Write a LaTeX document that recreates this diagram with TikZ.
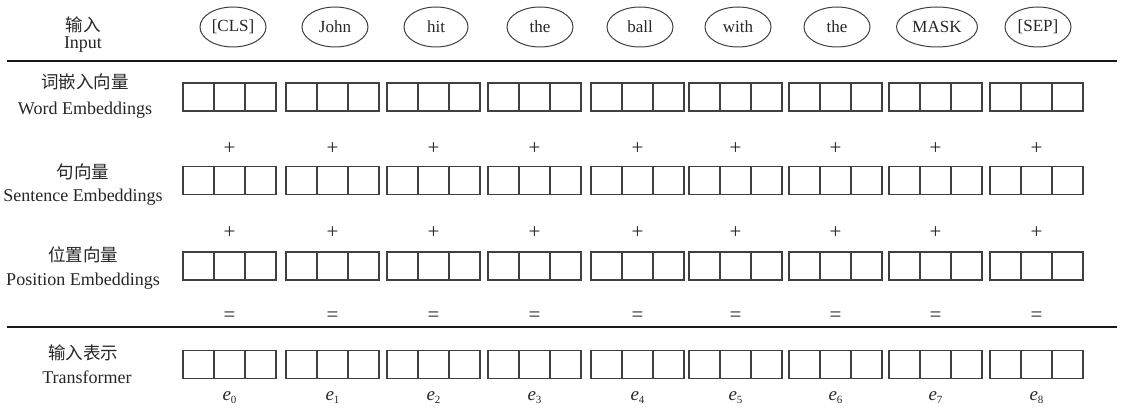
\documentclass[tikz,border=0pt]{standalone}
\usepackage{fontspec}
\setmainfont{Liberation Serif}
\newfontfamily\cjk{Noto Sans CJK SC}
\usetikzlibrary{calc,shapes.geometric}
\newcommand{\evec}[1]{\textit{e}\raisebox{-3pt}{\fontsize{11}{12}\selectfont #1}}
\begin{document}
\begin{tikzpicture}[x=1pt,y=-1pt,
  txt/.style={inner sep=0pt,text=black!85,font=\fontsize{19}{21}\selectfont},
  lbl/.style={inner sep=0pt,text=black!85,font=\fontsize{18}{20}\selectfont},
  cjklbl/.style={inner sep=0pt,text=black!85,font=\cjk\fontsize{17.5}{20}\selectfont},
  tok/.style={draw=black!75,line width=1pt,ellipse,minimum width=66pt,minimum height=40pt,inner sep=0pt,text=black!85,font=\fontsize{17}{19}\selectfont},
  vec/.style={draw=black!75,line width=1.3pt,rectangle,minimum width=93pt,minimum height=28pt,inner sep=0pt,
    path picture={
      \draw[black!75,line width=1.3pt]
        ($(path picture bounding box.south west)!0.3333!(path picture bounding box.south east)$) --
        ($(path picture bounding box.north west)!0.3333!(path picture bounding box.north east)$)
        ($(path picture bounding box.south west)!0.6667!(path picture bounding box.south east)$) --
        ($(path picture bounding box.north west)!0.6667!(path picture bounding box.north east)$);
    }},
  op/.style={inner sep=0pt,text=black!85,font=\fontsize{21}{23}\selectfont},
  rule/.style={line width=1.6pt,black!90}
]
\useasboundingbox (0,0) rectangle (1122,409);

% left labels
\node[cjklbl] (l0a) at (83,25) {输入};
\node[lbl] (l0b) at (83,45) {Input};
\node[cjklbl] (l1a) at (85,82) {词嵌入向量};
\node[lbl] (l1b) at (85,110) {Word Embeddings};
\node[cjklbl] (l2a) at (83,172) {句向量};
\node[lbl] (l2b) at (83,197) {Sentence Embeddings};
\node[cjklbl] (l3a) at (83,255) {位置向量};
\node[lbl] (l3b) at (83,281) {Position Embeddings};
\node[cjklbl] (l4a) at (83,353) {输入表示};
\node[lbl] (l4b) at (87,377) {Transformer};

% rules
\coordinate (r1a) at (7,61);
\coordinate (r1b) at (1117,61);
\coordinate (r2a) at (7,327);
\coordinate (r2b) at (1117,327);
\draw[rule] (r1a) -- (r1b);
\draw[rule] (r2a) -- (r2b);

% tokens
\foreach \x/\t/\w [count=\i from 0] in {233/{[CLS]}/66,335/John/66,436/hit/64,540/the/66,640/ball/66,738/with/66,837/the/66,937/MASK/81,1038/{[SEP]}/66}{
  \node[tok,minimum width=\w pt] (t\i) at (\x,27) {\t};
}

% vectors
\foreach \x [count=\i from 0] in {229.5,332.5,433.5,534.5,637.5,735.5,835.5,935.5,1036.5}{
  \node[vec] (w\i) at (\x,97) {};
  \node[op] (p\i) at (\x,149) {+};
  \node[vec] (s\i) at (\x,180.5) {};
  \node[op] (q\i) at (\x,233) {+};
  \node[vec] (o\i) at (\x,266) {};
  \node[op] (eq\i) at (\x,317) {=};
  \node[vec] (r\i) at (\x,364.5) {};
  \node[txt] (e\i) at (\x,398) {\evec{\i}};
}
\end{tikzpicture}
\end{document}
